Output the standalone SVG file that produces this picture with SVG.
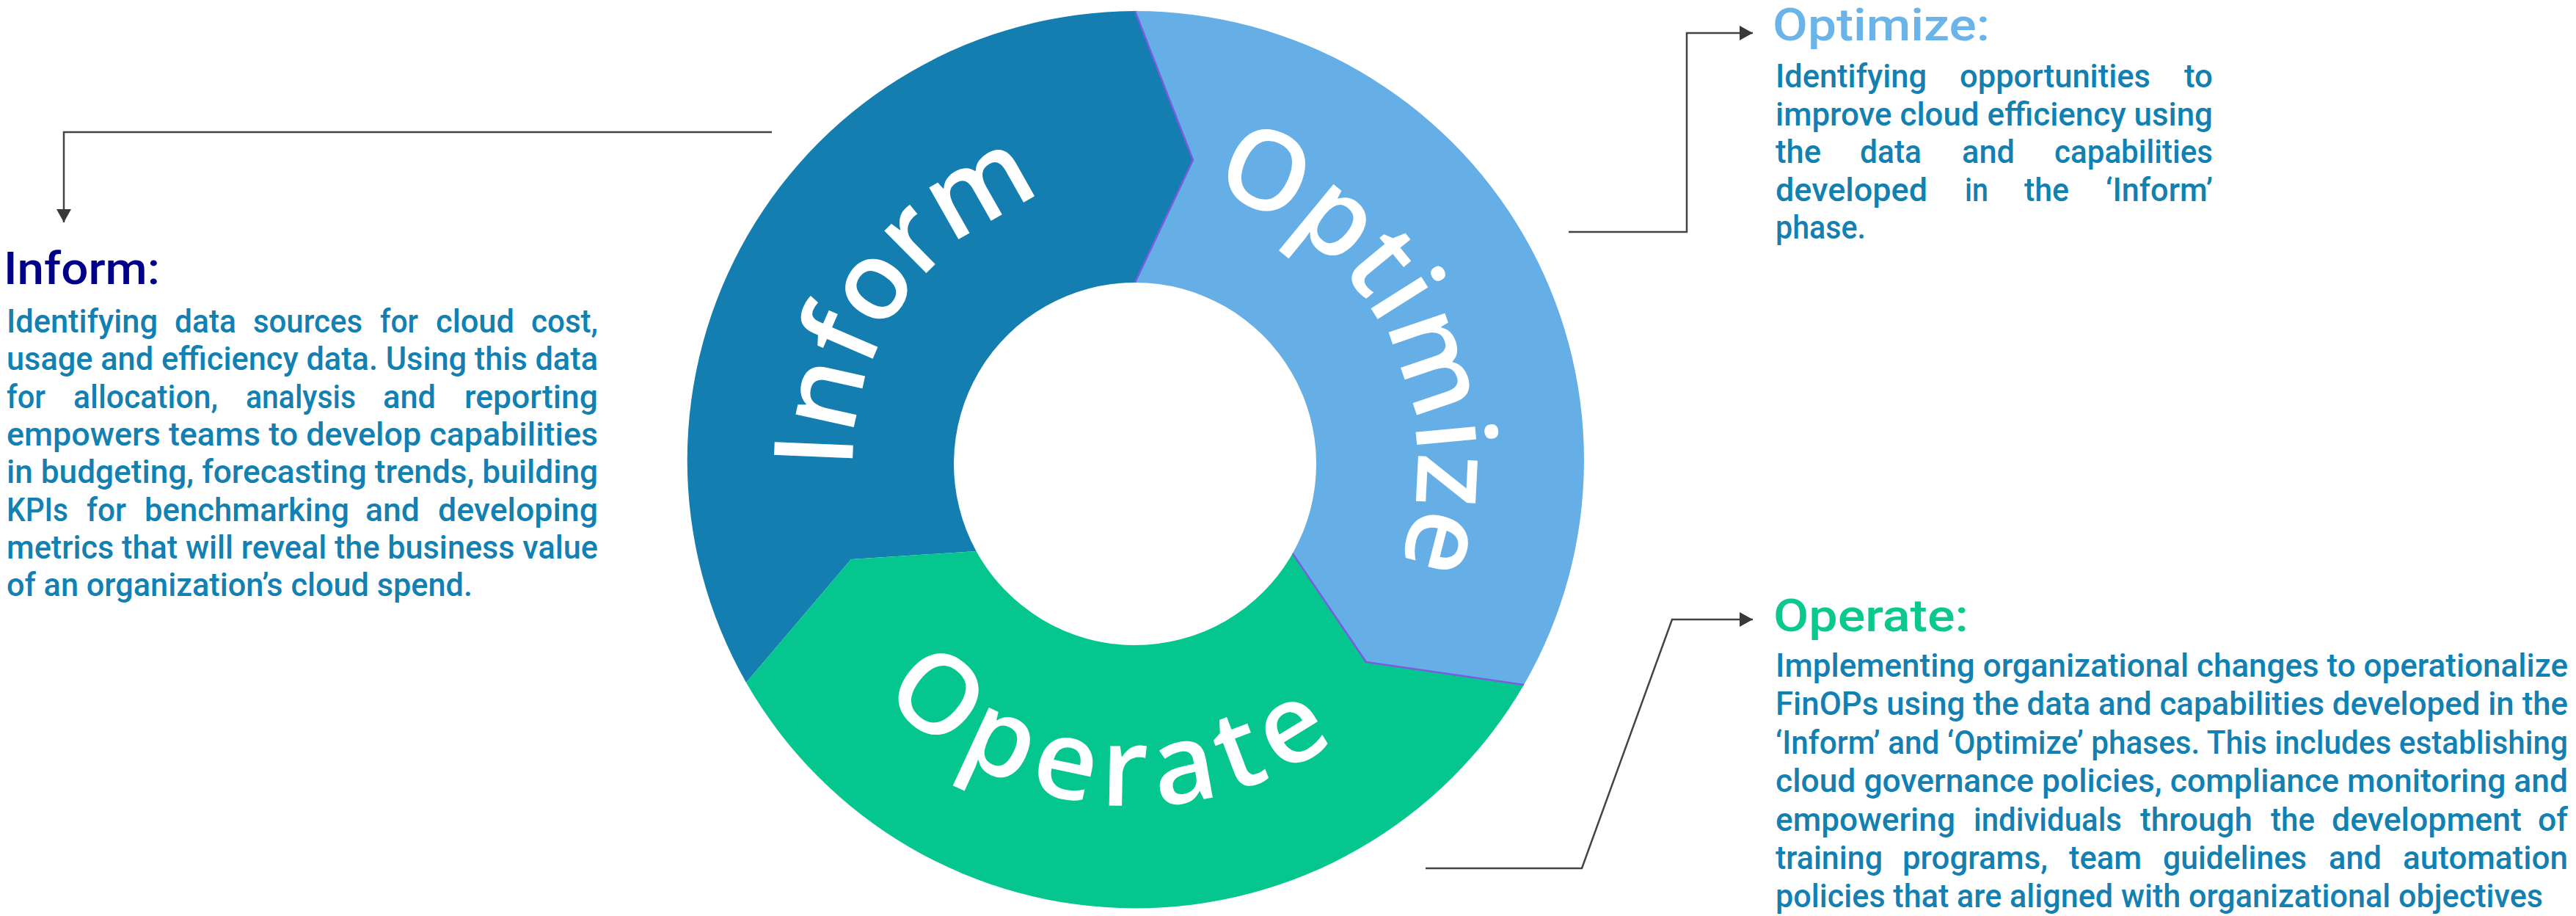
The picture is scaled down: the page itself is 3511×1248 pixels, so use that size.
<svg xmlns="http://www.w3.org/2000/svg" width="3511" height="1248" viewBox="0 0 3511 1248">
<style>
.body{font-family:Roboto,"Liberation Sans",Arial,sans-serif;font-weight:500;font-size:44px;fill:#1380b2}
.head{font-family:Roboto,"Liberation Sans",Arial,sans-serif;font-weight:500;font-size:62px}
.ring{font-family:"Open Sans","Liberation Sans",sans-serif;font-weight:600;font-size:150px;fill:#ffffff}
.seam{fill:none;stroke:#7b5ce0;stroke-width:2.5;stroke-linejoin:round}
.conn{fill:none;stroke:#444444;stroke-width:2.5}
</style>
<defs>
<marker id="arrow" markerUnits="userSpaceOnUse" markerWidth="20" markerHeight="22" refX="18" refY="11" orient="auto">
<path d="M0,1 L18,11 L0,21 Z" fill="#383838"/>
</marker>
<path id="arcInform" d="M 1198.1 794.7 A 385 385 0 0 1 1580.6 248.5"/>
<path id="arcOptimize" d="M 1567.1 247.5 A 385 385 0 0 1 1869.9 841.7"/>
<path id="arcOperate" d="M 1109.1 791.4 A 466 466 0 0 0 1950.6 865"/>
</defs>
<rect width="3511" height="1248" fill="#ffffff"/>

<g id="node-inform">
<path d="M 1547 15 A 612 612 0 0 0 1017 930 L 1160 762 L 1330.6 751 A 247 247 0 0 1 1547 385 L 1626 218 Z" fill="#137eaf"/>
<text class="ring" letter-spacing="-2"><textPath href="#arcInform" startOffset="50%" text-anchor="middle">Inform</textPath></text>
<text class="head" x="5" y="387" fill="#000089" textLength="213" lengthAdjust="spacingAndGlyphs">Inform:</text>
<text class="body" y="453"><tspan x="9" textLength="206" lengthAdjust="spacingAndGlyphs">Identifying</tspan><tspan x="238" textLength="84" lengthAdjust="spacingAndGlyphs">data</tspan><tspan x="345" textLength="149" lengthAdjust="spacingAndGlyphs">sources</tspan><tspan x="518" textLength="52" lengthAdjust="spacingAndGlyphs">for</tspan><tspan x="594" textLength="107" lengthAdjust="spacingAndGlyphs">cloud</tspan><tspan x="724" textLength="91" lengthAdjust="spacingAndGlyphs">cost,</tspan></text>
<text class="body" x="9" y="504" textLength="806" lengthAdjust="spacingAndGlyphs">usage and efficiency data. Using this data</text>
<text class="body" y="556"><tspan x="9" textLength="53" lengthAdjust="spacingAndGlyphs">for</tspan><tspan x="100" textLength="197" lengthAdjust="spacingAndGlyphs">allocation,</tspan><tspan x="335" textLength="150" lengthAdjust="spacingAndGlyphs">analysis</tspan><tspan x="522" textLength="72" lengthAdjust="spacingAndGlyphs">and</tspan><tspan x="633" textLength="182" lengthAdjust="spacingAndGlyphs">reporting</tspan></text>
<text class="body" x="9" y="607" textLength="806" lengthAdjust="spacingAndGlyphs">empowers teams to develop capabilities</text>
<text class="body" x="9" y="658" textLength="806" lengthAdjust="spacingAndGlyphs">in budgeting, forecasting trends, building</text>
<text class="body" y="710"><tspan x="9" textLength="84" lengthAdjust="spacingAndGlyphs">KPIs</tspan><tspan x="118" textLength="54" lengthAdjust="spacingAndGlyphs">for</tspan><tspan x="197" textLength="279" lengthAdjust="spacingAndGlyphs">benchmarking</tspan><tspan x="498" textLength="74" lengthAdjust="spacingAndGlyphs">and</tspan><tspan x="597" textLength="218" lengthAdjust="spacingAndGlyphs">developing</tspan></text>
<text class="body" x="9" y="761" textLength="806" lengthAdjust="spacingAndGlyphs">metrics that will reveal the business value</text>
<text class="body" x="9" y="812" textLength="635" lengthAdjust="spacingAndGlyphs">of an organization’s cloud spend.</text>
</g>

<g id="node-optimize">
<path d="M 1547 15 A 612 612 0 0 1 2077 933 L 1862 902 L 1761.8 754 A 247 247 0 0 0 1547 385 L 1626 218 Z" fill="#65afe6"/>
<text class="ring" letter-spacing="-2"><textPath href="#arcOptimize" startOffset="50%" text-anchor="middle">Optimize</textPath></text>
<text class="head" x="2416" y="55" fill="#6ab4e9" textLength="296" lengthAdjust="spacingAndGlyphs">Optimize:</text>
<text class="body" y="119"><tspan x="2420" textLength="206" lengthAdjust="spacingAndGlyphs">Identifying</tspan><tspan x="2671" textLength="260" lengthAdjust="spacingAndGlyphs">opportunities</tspan><tspan x="2977" textLength="39" lengthAdjust="spacingAndGlyphs">to</tspan></text>
<text class="body" x="2420" y="171" textLength="596" lengthAdjust="spacingAndGlyphs">improve cloud efficiency using</text>
<text class="body" y="222"><tspan x="2420" textLength="62" lengthAdjust="spacingAndGlyphs">the</tspan><tspan x="2535" textLength="84" lengthAdjust="spacingAndGlyphs">data</tspan><tspan x="2674" textLength="72" lengthAdjust="spacingAndGlyphs">and</tspan><tspan x="2800" textLength="216" lengthAdjust="spacingAndGlyphs">capabilities</tspan></text>
<text class="body" y="274"><tspan x="2420" textLength="207" lengthAdjust="spacingAndGlyphs">developed</tspan><tspan x="2678" textLength="32" lengthAdjust="spacingAndGlyphs">in</tspan><tspan x="2759" textLength="61" lengthAdjust="spacingAndGlyphs">the</tspan><tspan x="2870" textLength="146" lengthAdjust="spacingAndGlyphs">‘Inform’</tspan></text>
<text class="body" x="2420" y="325" textLength="123" lengthAdjust="spacingAndGlyphs">phase.</text>
</g>

<g id="node-operate">
<path d="M 2077 933 A 612 612 0 0 1 1017 930 L 1160 762 L 1330.6 751 A 247 247 0 0 0 1761.8 754 L 1862 902 Z" fill="#06c68f"/>
<text class="ring" letter-spacing="14"><textPath href="#arcOperate" startOffset="50%" text-anchor="middle">Operate</textPath></text>
<text class="head" x="2417" y="860" fill="#0bc98e" textLength="266" lengthAdjust="spacingAndGlyphs">Operate:</text>
<text class="body" x="2420" y="922" textLength="1080" lengthAdjust="spacingAndGlyphs">Implementing organizational changes to operationalize</text>
<text class="body" x="2420" y="974" textLength="1080" lengthAdjust="spacingAndGlyphs">FinOPs using the data and capabilities developed in the</text>
<text class="body" x="2420" y="1027" textLength="1080" lengthAdjust="spacingAndGlyphs">‘Inform’ and ‘Optimize’ phases. This includes establishing</text>
<text class="body" x="2420" y="1079" textLength="1080" lengthAdjust="spacingAndGlyphs">cloud governance policies, compliance monitoring and</text>
<text class="body" y="1132"><tspan x="2420" textLength="245" lengthAdjust="spacingAndGlyphs">empowering</tspan><tspan x="2690" textLength="202" lengthAdjust="spacingAndGlyphs">individuals</tspan><tspan x="2917" textLength="153" lengthAdjust="spacingAndGlyphs">through</tspan><tspan x="3095" textLength="60" lengthAdjust="spacingAndGlyphs">the</tspan><tspan x="3178" textLength="259" lengthAdjust="spacingAndGlyphs">development</tspan><tspan x="3459" textLength="41" lengthAdjust="spacingAndGlyphs">of</tspan></text>
<text class="body" y="1184"><tspan x="2420" textLength="146" lengthAdjust="spacingAndGlyphs">training</tspan><tspan x="2593" textLength="198" lengthAdjust="spacingAndGlyphs">programs,</tspan><tspan x="2820" textLength="99" lengthAdjust="spacingAndGlyphs">team</tspan><tspan x="2948" textLength="196" lengthAdjust="spacingAndGlyphs">guidelines</tspan><tspan x="3174" textLength="72" lengthAdjust="spacingAndGlyphs">and</tspan><tspan x="3275" textLength="225" lengthAdjust="spacingAndGlyphs">automation</tspan></text>
<text class="body" x="2420" y="1236" textLength="1046" lengthAdjust="spacingAndGlyphs">policies that are aligned with organizational objectives</text>
</g>

<g id="seams">
<polyline class="seam" points="1547,15 1626,218 1547,385"/>
<polyline class="seam" points="1761.8,754 1862,902 2077,933"/>
</g>

<g id="connectors">
<path class="conn" d="M 1052 180 H 87 V 303" marker-end="url(#arrow)"/>
<path class="conn" d="M 2138 316 H 2299 V 45 H 2389" marker-end="url(#arrow)"/>
<path class="conn" d="M 1943 1183 H 2156 L 2279 844 H 2389" marker-end="url(#arrow)"/>
</g>
</svg>
